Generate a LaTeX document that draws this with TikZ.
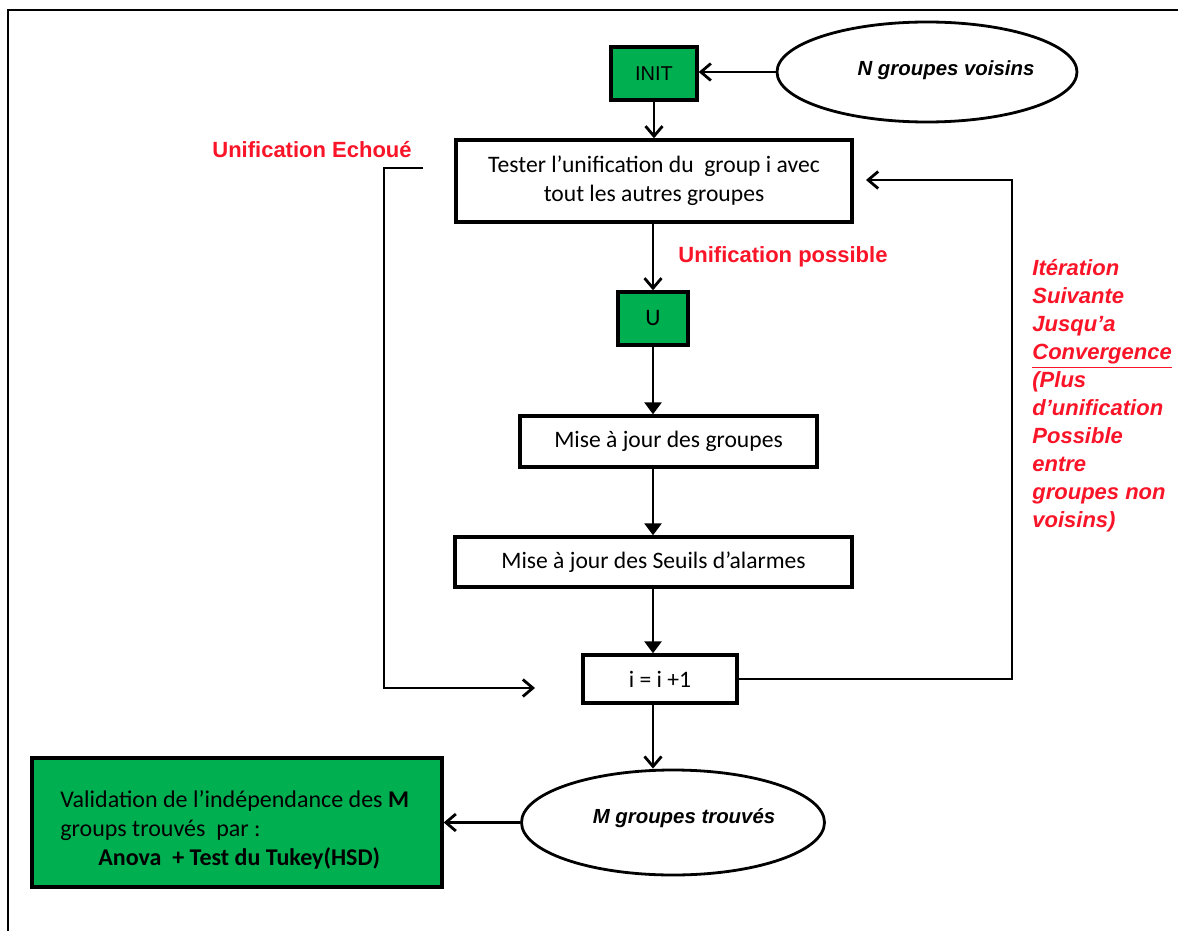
\documentclass[tikz,border=0pt]{standalone}
\usepackage{fontspec}
\setmainfont{Carlito}
\newfontfamily\arialfont{Liberation Sans}
\usetikzlibrary{arrows.meta,shapes.geometric}
\definecolor{boxgreen}{RGB}{0,176,80}
\definecolor{labelred}{RGB}{250,20,40}
\tikzset{
  stepbox/.style={draw=black, line width=1.7pt, fill=white, inner sep=0pt, align=center,
    font=\fontsize{11.8}{14.5}\selectfont},
  greenbox/.style={stepbox, fill=boxgreen},
  oval/.style={draw=black, line width=1.4pt, ellipse, inner sep=0pt, fill=white,
    font=\arialfont\bfseries\itshape\fontsize{10.2}{12}\selectfont},
  redlabel/.style={text=labelred, font=\arialfont\bfseries\fontsize{11}{14}\selectfont, inner sep=0pt},
  flow/.style={draw=black, line width=1.4pt, -{Straight Barb[length=5pt,width=8.5pt,line width=1.4pt]}},
  flowfill/.style={draw=black, line width=1.4pt, -{Triangle[length=6pt,width=8.5pt]}},
}
\begin{document}
\begin{tikzpicture}[x=0.5pt,y=-0.5pt]
\useasboundingbox (0,0) rectangle (1178,931);
\fill[white] (0,0) rectangle (1178,931);
% outer frame
\draw[line width=1pt] (8,934) -- (8,10) -- (1182,10);

% nodes
\node[greenbox, minimum width=43pt, minimum height=26.5pt, font=\arialfont\fontsize{10}{12}\selectfont] (init) at (654,73.5) {INIT};
\node[oval, minimum width=150pt, minimum height=50pt] (nvois) at (927,72) {};
\node[oval, draw=none, fill=none] (nvoistext) at (946,70) {N groupes voisins};
\node[stepbox, minimum width=198pt, minimum height=41pt] (tester) at (654,181)
  {Tester l’unification du~ group i avec\\tout les autres groupes};
\node[greenbox, minimum width=35pt, minimum height=26.5pt] (uni) at (653,318.5) {U};
\node[stepbox, minimum width=148.5pt, minimum height=25.5pt] (maj1) at (668.5,441.5) {Mise à jour des groupes};
\node[stepbox, minimum width=198.5pt, minimum height=25pt] (maj2) at (653.5,562) {Mise à jour des Seuils d’alarmes};
\node[stepbox, minimum width=77pt, minimum height=24pt] (inc) at (660,679) {i = i +1};
\node[oval, minimum width=151.5pt, minimum height=52.5pt] (mgr) at (673,822.5) {};
\node[oval, draw=none, fill=none] (mgrtext) at (684,818) {M groupes trouvés};
\node[greenbox, minimum width=205pt, minimum height=64.5pt] (valid) at (237,822.5) {};
\node[inner sep=0pt, anchor=north west, align=left, font=\fontsize{12}{14.5}\selectfont] (validtext) at (60,790)
  {Validation de l’indépendance des \textbf{M}\\groups trouvés~ par :\\\hspace*{19pt}\textbf{Anova~ + Test du Tukey(HSD)}};

% labels
\node[redlabel] (echoue) at (312,150) {Unification Echoué};
\node[redlabel] (possible) at (783,257) {Unification possible};
\node[redlabel, font=\arialfont\bfseries\itshape\fontsize{11}{14}\selectfont, align=left, anchor=north west] (iter) at (1032,259)
  {Itération\\Suivante\\Jusqu’a\\\underline{Convergence}\\(Plus\\d’unification\\Possible\\entre\\groupes non\\voisins)};

% free ends of the loop connectors
\coordinate (ltop) at (423,168);
\coordinate (lcorner) at (384,168);
\coordinate (ltip) at (535,688);
\coordinate (rcorner) at (1012,180);
\coordinate (rtip) at (866,180);

% connectors
\draw[flow] (nvois.west) -- (init.east |- nvois.west);
\draw[flow] (init.south) -- (tester.north);
\draw[flow] (tester.south -| uni) -- (uni.north);
\draw[flowfill] (uni.south) -- (uni.south |- maj1.north);
\draw[flowfill] (uni.south |- maj1.south) -- (uni.south |- maj2.north);
\draw[flowfill] (uni.south |- maj2.south) -- (uni.south |- inc.north);
\draw[flow] (uni.south |- inc.south) -- (uni.south |- mgr.north);
\draw[flow] (mgr.west) -- (valid.east |- mgr.west);
\draw[flow] (ltop) -- (lcorner) |- (ltip);
\draw[flow] (inc.east) -| (rcorner) -- (rtip);
\end{tikzpicture}
\end{document}
